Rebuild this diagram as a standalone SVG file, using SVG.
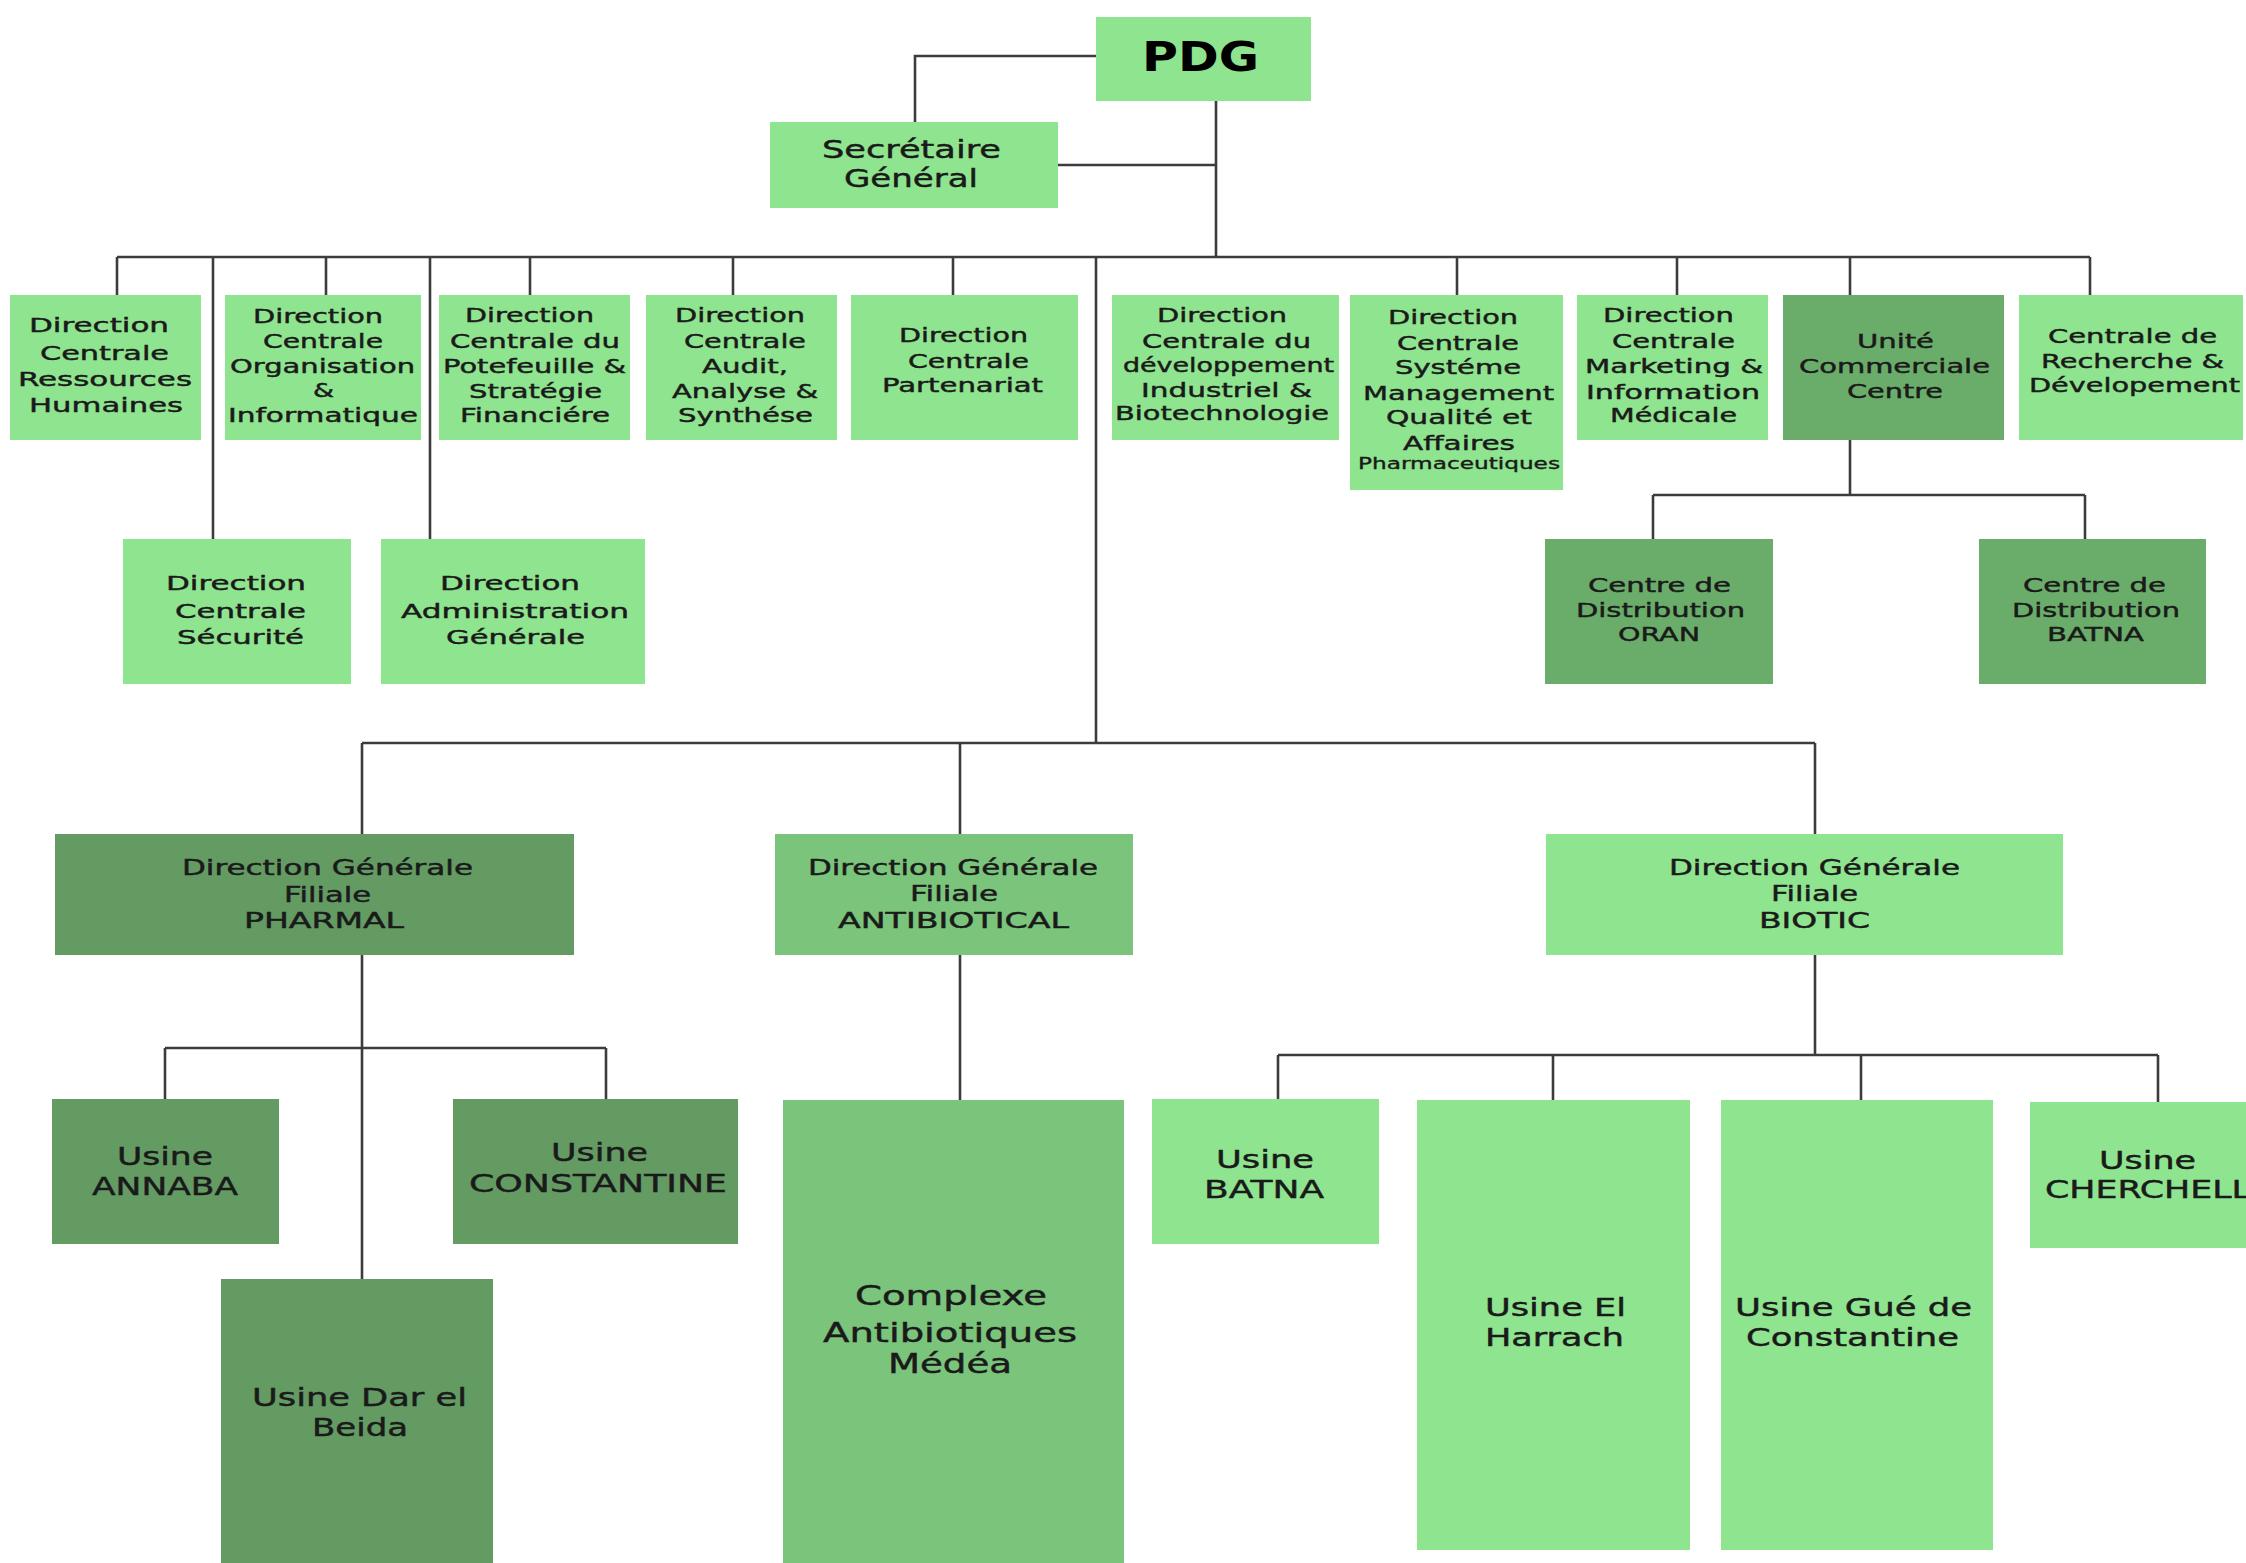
<svg xmlns="http://www.w3.org/2000/svg" width="2246" height="1563" viewBox="0 0 2246 1563">
<style>
.n{fill:#8fe48f}
.d{fill:#6aad6a}
.p{fill:#639b63}
.a{fill:#7bc47b}
text{font-family:"DejaVu Sans",Verdana,sans-serif;fill:#1a1a1a;stroke:#1a1a1a;stroke-width:0.45}
.s{font-size:20px}
.xs{font-size:15px;stroke-width:0.35}
.m{font-size:25px}
.f{font-size:21px}
.l{font-size:27px}
.b{font-size:40px;font-weight:bold;fill:#000;stroke:none}
.c{fill:none;stroke:#3c3c3c;stroke-width:2.6}
</style>
<rect width="2246" height="1563" fill="#fff"/>
<g id="connectors" class="c">
<polyline points="1096,56 915,56 915,122"/>
<line x1="1058" y1="165" x2="1216" y2="165"/>
<line x1="1216" y1="101" x2="1216" y2="257"/>
<line x1="117" y1="257" x2="2090" y2="257"/>
<line x1="117" y1="257" x2="117" y2="295"/>
<line x1="213" y1="257" x2="213" y2="539"/>
<line x1="326" y1="257" x2="326" y2="295"/>
<line x1="430" y1="257" x2="430" y2="539"/>
<line x1="530" y1="257" x2="530" y2="295"/>
<line x1="733" y1="257" x2="733" y2="295"/>
<line x1="953" y1="257" x2="953" y2="295"/>
<line x1="1457" y1="257" x2="1457" y2="295"/>
<line x1="1677" y1="257" x2="1677" y2="295"/>
<line x1="1850" y1="257" x2="1850" y2="295"/>
<line x1="2090" y1="257" x2="2090" y2="295"/>
<line x1="1850" y1="440" x2="1850" y2="495"/>
<line x1="1653" y1="495" x2="2085" y2="495"/>
<line x1="1653" y1="495" x2="1653" y2="539"/>
<line x1="2085" y1="495" x2="2085" y2="539"/>
<line x1="1096" y1="257" x2="1096" y2="743"/>
<line x1="362" y1="743" x2="1815" y2="743"/>
<line x1="362" y1="743" x2="362" y2="834"/>
<line x1="960" y1="743" x2="960" y2="834"/>
<line x1="1815" y1="743" x2="1815" y2="834"/>
<line x1="362" y1="955" x2="362" y2="1279"/>
<line x1="165" y1="1048" x2="606" y2="1048"/>
<line x1="165" y1="1048" x2="165" y2="1099"/>
<line x1="606" y1="1048" x2="606" y2="1099"/>
<line x1="960" y1="955" x2="960" y2="1100"/>
<line x1="1815" y1="955" x2="1815" y2="1055"/>
<line x1="1278" y1="1055" x2="2158" y2="1055"/>
<line x1="1278" y1="1055" x2="1278" y2="1099"/>
<line x1="1553" y1="1055" x2="1553" y2="1100"/>
<line x1="1861" y1="1055" x2="1861" y2="1100"/>
<line x1="2158" y1="1055" x2="2158" y2="1102"/>
</g>
<g id="pdg"><rect class="n" x="1096" y="17" width="215" height="84"/>
<text class="b" x="1142" y="71" textLength="117" lengthAdjust="spacingAndGlyphs">PDG</text></g>
<g id="sg"><rect class="n" x="770" y="122" width="288" height="86"/>
<text class="m" x="822" y="158" textLength="179" lengthAdjust="spacingAndGlyphs">Secrétaire</text>
<text class="m" x="844" y="187" textLength="134" lengthAdjust="spacingAndGlyphs">Général</text></g>
<g id="dcrh"><rect class="n" x="10" y="295" width="191" height="145"/>
<text class="s" x="29" y="332" textLength="140" lengthAdjust="spacingAndGlyphs">Direction</text>
<text class="s" x="40" y="360" textLength="129" lengthAdjust="spacingAndGlyphs">Centrale</text>
<text class="s" x="18" y="386" textLength="174" lengthAdjust="spacingAndGlyphs">Ressources</text>
<text class="s" x="29" y="412" textLength="154" lengthAdjust="spacingAndGlyphs">Humaines</text></g>
<g id="dcoi"><rect class="n" x="225" y="295" width="196" height="145"/>
<text class="s" x="253" y="323" textLength="130" lengthAdjust="spacingAndGlyphs">Direction</text>
<text class="s" x="263" y="348" textLength="120" lengthAdjust="spacingAndGlyphs">Centrale</text>
<text class="s" x="230" y="373" textLength="185" lengthAdjust="spacingAndGlyphs">Organisation</text>
<text class="s" x="313" y="397" textLength="21" lengthAdjust="spacingAndGlyphs">&amp;</text>
<text class="s" x="228" y="422" textLength="190" lengthAdjust="spacingAndGlyphs">Informatique</text></g>
<g id="dcpsf"><rect class="n" x="439" y="295" width="191" height="145"/>
<text class="s" x="465" y="322" textLength="129" lengthAdjust="spacingAndGlyphs">Direction</text>
<text class="s" x="450" y="348" textLength="170" lengthAdjust="spacingAndGlyphs">Centrale du</text>
<text class="s" x="443" y="373" textLength="183" lengthAdjust="spacingAndGlyphs">Potefeuille &amp;</text>
<text class="s" x="469" y="398" textLength="133" lengthAdjust="spacingAndGlyphs">Stratégie</text>
<text class="s" x="460" y="422" textLength="150" lengthAdjust="spacingAndGlyphs">Financiére</text></g>
<g id="dcaas"><rect class="n" x="646" y="295" width="191" height="145"/>
<text class="s" x="675" y="322" textLength="130" lengthAdjust="spacingAndGlyphs">Direction</text>
<text class="s" x="684" y="348" textLength="122" lengthAdjust="spacingAndGlyphs">Centrale</text>
<text class="s" x="702" y="373" textLength="86" lengthAdjust="spacingAndGlyphs">Audit,</text>
<text class="s" x="672" y="398" textLength="146" lengthAdjust="spacingAndGlyphs">Analyse &amp;</text>
<text class="s" x="678" y="422" textLength="135" lengthAdjust="spacingAndGlyphs">Synthése</text></g>
<g id="dcp"><rect class="n" x="851" y="295" width="227" height="145"/>
<text class="s" x="899" y="342" textLength="129" lengthAdjust="spacingAndGlyphs">Direction</text>
<text class="s" x="908" y="368" textLength="121" lengthAdjust="spacingAndGlyphs">Centrale</text>
<text class="s" x="882" y="392" textLength="161" lengthAdjust="spacingAndGlyphs">Partenariat</text></g>
<g id="dcs"><rect class="n" x="123" y="539" width="228" height="145"/>
<text class="s" x="166" y="590" textLength="140" lengthAdjust="spacingAndGlyphs">Direction</text>
<text class="s" x="175" y="618" textLength="131" lengthAdjust="spacingAndGlyphs">Centrale</text>
<text class="s" x="177" y="644" textLength="127" lengthAdjust="spacingAndGlyphs">Sécurité</text></g>
<g id="dag"><rect class="n" x="381" y="539" width="264" height="145"/>
<text class="s" x="440" y="590" textLength="140" lengthAdjust="spacingAndGlyphs">Direction</text>
<text class="s" x="401" y="618" textLength="228" lengthAdjust="spacingAndGlyphs">Administration</text>
<text class="s" x="446" y="644" textLength="139" lengthAdjust="spacingAndGlyphs">Générale</text></g>
<g id="dcdib"><rect class="n" x="1112" y="295" width="227" height="145"/>
<text class="s" x="1157" y="322" textLength="130" lengthAdjust="spacingAndGlyphs">Direction</text>
<text class="s" x="1142" y="348" textLength="169" lengthAdjust="spacingAndGlyphs">Centrale du</text>
<text class="s" x="1123" y="372" textLength="211" lengthAdjust="spacingAndGlyphs">développement</text>
<text class="s" x="1141" y="397" textLength="171" lengthAdjust="spacingAndGlyphs">Industriel &amp;</text>
<text class="s" x="1115" y="420" textLength="214" lengthAdjust="spacingAndGlyphs">Biotechnologie</text></g>
<g id="dcsmq"><rect class="n" x="1350" y="295" width="213" height="195"/>
<text class="s" x="1388" y="324" textLength="130" lengthAdjust="spacingAndGlyphs">Direction</text>
<text class="s" x="1397" y="350" textLength="122" lengthAdjust="spacingAndGlyphs">Centrale</text>
<text class="s" x="1395" y="374" textLength="126" lengthAdjust="spacingAndGlyphs">Systéme</text>
<text class="s" x="1363" y="400" textLength="191" lengthAdjust="spacingAndGlyphs">Management</text>
<text class="s" x="1386" y="424" textLength="146" lengthAdjust="spacingAndGlyphs">Qualité et</text>
<text class="s" x="1403" y="450" textLength="112" lengthAdjust="spacingAndGlyphs">Affaires</text>
<text class="xs" x="1358" y="469" textLength="202" lengthAdjust="spacingAndGlyphs">Pharmaceutiques</text></g>
<g id="dcmim"><rect class="n" x="1577" y="295" width="191" height="145"/>
<text class="s" x="1603" y="322" textLength="131" lengthAdjust="spacingAndGlyphs">Direction</text>
<text class="s" x="1612" y="348" textLength="123" lengthAdjust="spacingAndGlyphs">Centrale</text>
<text class="s" x="1585" y="373" textLength="178" lengthAdjust="spacingAndGlyphs">Marketing &amp;</text>
<text class="s" x="1586" y="399" textLength="174" lengthAdjust="spacingAndGlyphs">Information</text>
<text class="s" x="1610" y="422" textLength="127" lengthAdjust="spacingAndGlyphs">Médicale</text></g>
<g id="ucc"><rect class="d" x="1783" y="295" width="221" height="145"/>
<text class="s" x="1857" y="348" textLength="77" lengthAdjust="spacingAndGlyphs">Unité</text>
<text class="s" x="1799" y="373" textLength="191" lengthAdjust="spacingAndGlyphs">Commerciale</text>
<text class="s" x="1847" y="398" textLength="96" lengthAdjust="spacingAndGlyphs">Centre</text></g>
<g id="crd"><rect class="n" x="2019" y="295" width="224" height="145"/>
<text class="s" x="2048" y="343" textLength="169" lengthAdjust="spacingAndGlyphs">Centrale de</text>
<text class="s" x="2041" y="368" textLength="183" lengthAdjust="spacingAndGlyphs">Recherche &amp;</text>
<text class="s" x="2029" y="392" textLength="211" lengthAdjust="spacingAndGlyphs">Dévelopement</text></g>
<g id="cd-oran"><rect class="d" x="1545" y="539" width="228" height="145"/>
<text class="s" x="1588" y="592" textLength="143" lengthAdjust="spacingAndGlyphs">Centre de</text>
<text class="s" x="1576" y="617" textLength="169" lengthAdjust="spacingAndGlyphs">Distribution</text>
<text class="s" x="1618" y="641" textLength="82" lengthAdjust="spacingAndGlyphs">ORAN</text></g>
<g id="cd-batna"><rect class="d" x="1979" y="539" width="227" height="145"/>
<text class="s" x="2023" y="592" textLength="143" lengthAdjust="spacingAndGlyphs">Centre de</text>
<text class="s" x="2012" y="617" textLength="168" lengthAdjust="spacingAndGlyphs">Distribution</text>
<text class="s" x="2047" y="641" textLength="97" lengthAdjust="spacingAndGlyphs">BATNA</text></g>
<g id="pharmal"><rect class="p" x="55" y="834" width="519" height="121"/>
<text class="f" x="182" y="875" textLength="291" lengthAdjust="spacingAndGlyphs">Direction Générale</text>
<text class="f" x="284" y="902" textLength="87" lengthAdjust="spacingAndGlyphs">Filiale</text>
<text class="f" x="244" y="928" textLength="160" lengthAdjust="spacingAndGlyphs">PHARMAL</text></g>
<g id="antibiotical"><rect class="a" x="775" y="834" width="358" height="121"/>
<text class="f" x="808" y="875" textLength="290" lengthAdjust="spacingAndGlyphs">Direction Générale</text>
<text class="f" x="910" y="901" textLength="88" lengthAdjust="spacingAndGlyphs">Filiale</text>
<text class="f" x="838" y="928" textLength="231" lengthAdjust="spacingAndGlyphs">ANTIBIOTICAL</text></g>
<g id="biotic"><rect class="n" x="1546" y="834" width="517" height="121"/>
<text class="f" x="1669" y="875" textLength="291" lengthAdjust="spacingAndGlyphs">Direction Générale</text>
<text class="f" x="1771" y="901" textLength="87" lengthAdjust="spacingAndGlyphs">Filiale</text>
<text class="f" x="1759" y="928" textLength="111" lengthAdjust="spacingAndGlyphs">BIOTIC</text></g>
<g id="annaba"><rect class="p" x="52" y="1099" width="227" height="145"/>
<text class="m" x="117" y="1165" textLength="96" lengthAdjust="spacingAndGlyphs">Usine</text>
<text class="m" x="92" y="1195" textLength="146" lengthAdjust="spacingAndGlyphs">ANNABA</text></g>
<g id="constantine"><rect class="p" x="453" y="1099" width="285" height="145"/>
<text class="m" x="551" y="1161" textLength="97" lengthAdjust="spacingAndGlyphs">Usine</text>
<text class="m" x="469" y="1192" textLength="258" lengthAdjust="spacingAndGlyphs">CONSTANTINE</text></g>
<g id="dar-el-beida"><rect class="p" x="221" y="1279" width="272" height="284"/>
<text class="m" x="252" y="1406" textLength="215" lengthAdjust="spacingAndGlyphs">Usine Dar el</text>
<text class="m" x="312" y="1436" textLength="96" lengthAdjust="spacingAndGlyphs">Beida</text></g>
<g id="complexe"><rect class="a" x="783" y="1100" width="341" height="463"/>
<text class="l" x="855" y="1305" textLength="192" lengthAdjust="spacingAndGlyphs">Complexe</text>
<text class="l" x="823" y="1342" textLength="254" lengthAdjust="spacingAndGlyphs">Antibiotiques</text>
<text class="l" x="888" y="1373" textLength="124" lengthAdjust="spacingAndGlyphs">Médéa</text></g>
<g id="batna"><rect class="n" x="1152" y="1099" width="227" height="145"/>
<text class="m" x="1216" y="1168" textLength="98" lengthAdjust="spacingAndGlyphs">Usine</text>
<text class="m" x="1204" y="1198" textLength="120" lengthAdjust="spacingAndGlyphs">BATNA</text></g>
<g id="el-harrach"><rect class="n" x="1417" y="1100" width="273" height="450"/>
<text class="m" x="1485" y="1316" textLength="141" lengthAdjust="spacingAndGlyphs">Usine El</text>
<text class="m" x="1485" y="1346" textLength="139" lengthAdjust="spacingAndGlyphs">Harrach</text></g>
<g id="gue-de-constantine"><rect class="n" x="1721" y="1100" width="272" height="450"/>
<text class="m" x="1735" y="1316" textLength="237" lengthAdjust="spacingAndGlyphs">Usine Gué de</text>
<text class="m" x="1746" y="1346" textLength="213" lengthAdjust="spacingAndGlyphs">Constantine</text></g>
<g id="cherchell"><rect class="n" x="2030" y="1102" width="220" height="146"/>
<text class="m" x="2099" y="1169" textLength="97" lengthAdjust="spacingAndGlyphs">Usine</text>
<text class="m" x="2045" y="1198" textLength="206" lengthAdjust="spacingAndGlyphs">CHERCHELL</text></g>
</svg>
